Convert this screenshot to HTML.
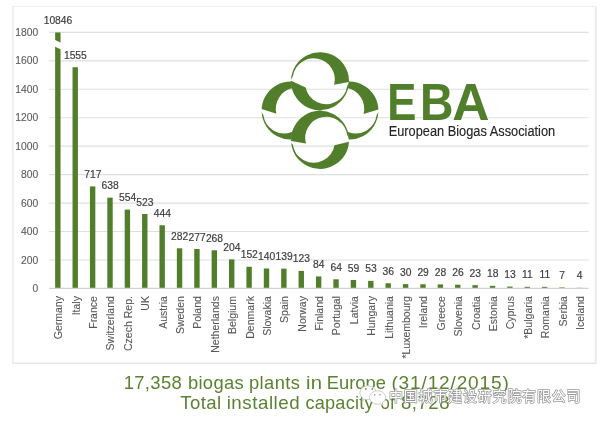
<!DOCTYPE html>
<html lang="en"><head><meta charset="utf-8"><title>Biogas plants in Europe</title>
<style>html,body{margin:0;padding:0;background:#fff}body{width:600px;height:422px;overflow:hidden}svg{display:block;will-change:transform}text{font-family:"Liberation Sans","Noto Sans CJK SC",sans-serif}.ax{font-size:10.3px;fill:#5c5c5c;stroke:#5c5c5c;stroke-width:.12px}.vl{font-size:10.3px;fill:#3d3d3d;stroke:#3d3d3d;stroke-width:.18px}.cat{font-size:10.5px;fill:#595959;stroke:#595959;stroke-width:.1px}.cap{font-size:17.8px;fill:#5b8230}</style></head><body>
<svg width="600" height="422" viewBox="0 0 600 422">
<rect width="600" height="422" fill="#fff"/>
<g id="frame" fill="none">
<path d="M12.8 6.5H595.8" stroke="#efefef" stroke-width="1"/>
<path d="M12.9 6.5V363.2" stroke="#e6e6e6" stroke-width="1.2"/>
<path d="M595.8 6.5V363.2" stroke="#e9e9e9" stroke-width="1.8"/>
<path d="M12.3 363.2H596.7" stroke="#e6e6e6" stroke-width="1.6"/>
</g>
<g id="grid" stroke="#dfdfdf" stroke-width="1.15">
<path d="M49.2 259.96H588.6"/>
<path d="M49.2 231.51H588.6"/>
<path d="M49.2 203.07H588.6"/>
<path d="M49.2 174.62H588.6"/>
<path d="M49.2 146.18H588.6"/>
<path d="M49.2 117.73H588.6"/>
<path d="M49.2 89.29H588.6"/>
<path d="M49.2 60.84H588.6"/>
<path d="M49.2 32.40H588.6"/>
</g>
<g id="yaxis" class="ax" text-anchor="end">
<text x="38.2" y="292.00">0</text>
<text x="38.2" y="263.56">200</text>
<text x="38.2" y="235.11">400</text>
<text x="38.2" y="206.67">600</text>
<text x="38.2" y="178.22">800</text>
<text x="38.2" y="149.78">1000</text>
<text x="38.2" y="121.33">1200</text>
<text x="38.2" y="92.89">1400</text>
<text x="38.2" y="64.44">1600</text>
<text x="38.2" y="36.00">1800</text>
</g>
<g id="bars" fill="#517e2a">
<path d="M55.14 32.4H60.54V42.4L55.14 40Z"/>
<path d="M55.14 46.8L60.54 49.2V288.4H55.14Z"/>
<rect x="72.53" y="67.24" width="5.4" height="221.16"/>
<rect x="89.92" y="186.43" width="5.4" height="101.97"/>
<rect x="107.30" y="197.66" width="5.4" height="90.74"/>
<rect x="124.69" y="209.61" width="5.4" height="78.79"/>
<rect x="142.08" y="214.02" width="5.4" height="74.38"/>
<rect x="159.47" y="225.25" width="5.4" height="63.15"/>
<rect x="176.85" y="248.29" width="5.4" height="40.11"/>
<rect x="194.24" y="249.00" width="5.4" height="39.40"/>
<rect x="211.63" y="250.28" width="5.4" height="38.12"/>
<rect x="229.01" y="259.39" width="5.4" height="29.01"/>
<rect x="246.40" y="266.78" width="5.4" height="21.62"/>
<rect x="263.79" y="268.49" width="5.4" height="19.91"/>
<rect x="281.18" y="268.63" width="5.4" height="19.77"/>
<rect x="298.56" y="270.91" width="5.4" height="17.49"/>
<rect x="315.95" y="276.45" width="5.4" height="11.95"/>
<rect x="333.34" y="279.30" width="5.4" height="9.10"/>
<rect x="350.72" y="280.01" width="5.4" height="8.39"/>
<rect x="368.11" y="280.86" width="5.4" height="7.54"/>
<rect x="385.50" y="283.28" width="5.4" height="5.12"/>
<rect x="402.89" y="284.13" width="5.4" height="4.27"/>
<rect x="420.27" y="284.28" width="5.4" height="4.12"/>
<rect x="437.66" y="284.42" width="5.4" height="3.98"/>
<rect x="455.05" y="284.70" width="5.4" height="3.70"/>
<rect x="472.43" y="285.13" width="5.4" height="3.27"/>
<rect x="489.82" y="285.84" width="5.4" height="2.56"/>
<rect x="507.21" y="286.55" width="5.4" height="1.85"/>
<rect x="524.60" y="286.84" width="5.4" height="1.56"/>
<rect x="541.98" y="286.84" width="5.4" height="1.56"/>
<rect x="559.37" y="287.40" width="5.4" height="1.00"/>
<rect x="576.76" y="287.83" width="5.4" height="0.57"/>
</g>
<path d="M49.2 288.4H588.6" stroke="#d2d2d2" stroke-width="1.1"/>
<g id="vals" class="vl" text-anchor="middle">
<text x="57.99" y="23.95">10846</text>
<text x="75.38" y="58.79">1555</text>
<text x="92.77" y="177.98">717</text>
<text x="110.15" y="189.21">638</text>
<text x="127.54" y="201.16">554</text>
<text x="144.93" y="205.57">523</text>
<text x="162.32" y="216.80">444</text>
<text x="179.70" y="239.84">282</text>
<text x="197.09" y="240.55">277</text>
<text x="214.48" y="241.83">268</text>
<text x="231.86" y="250.94">204</text>
<text x="249.25" y="258.33">152</text>
<text x="266.64" y="260.04">140</text>
<text x="284.03" y="260.18">139</text>
<text x="301.41" y="262.46">123</text>
<text x="318.80" y="268.00">84</text>
<text x="336.19" y="270.85">64</text>
<text x="353.57" y="271.56">59</text>
<text x="370.96" y="272.41">53</text>
<text x="388.35" y="274.83">36</text>
<text x="405.74" y="275.68">30</text>
<text x="423.12" y="275.83">29</text>
<text x="440.51" y="275.97">28</text>
<text x="457.90" y="276.25">26</text>
<text x="475.28" y="276.68">23</text>
<text x="492.67" y="277.39">18</text>
<text x="510.06" y="278.10">13</text>
<text x="527.45" y="278.39">11</text>
<text x="544.83" y="278.39">11</text>
<text x="562.22" y="278.95">7</text>
<text x="579.61" y="279.38">4</text>
</g>
<g id="cats" class="cat" text-anchor="end">
<text transform="translate(62.29 296.1) rotate(-90)">Germany</text>
<text transform="translate(79.68 296.1) rotate(-90)">Italy</text>
<text transform="translate(97.07 296.1) rotate(-90)">France</text>
<text transform="translate(114.45 296.1) rotate(-90)">Switzerland</text>
<text transform="translate(131.84 296.1) rotate(-90)">Czech Rep.</text>
<text transform="translate(149.23 296.1) rotate(-90)">UK</text>
<text transform="translate(166.62 296.1) rotate(-90)">Austria</text>
<text transform="translate(184.00 296.1) rotate(-90)">Sweden</text>
<text transform="translate(201.39 296.1) rotate(-90)">Poland</text>
<text transform="translate(218.78 296.1) rotate(-90)">Netherlands</text>
<text transform="translate(236.16 296.1) rotate(-90)">Belgium</text>
<text transform="translate(253.55 296.1) rotate(-90)">Denmark</text>
<text transform="translate(270.94 296.1) rotate(-90)">Slovakia</text>
<text transform="translate(288.33 296.1) rotate(-90)">Spain</text>
<text transform="translate(305.71 296.1) rotate(-90)">Norway</text>
<text transform="translate(323.10 296.1) rotate(-90)">Finland</text>
<text transform="translate(340.49 296.1) rotate(-90)">Portugal</text>
<text transform="translate(357.87 296.1) rotate(-90)">Latvia</text>
<text transform="translate(375.26 296.1) rotate(-90)">Hungary</text>
<text transform="translate(392.65 296.1) rotate(-90)">Lithuania</text>
<text transform="translate(410.04 296.1) rotate(-90)">*Luxembourg</text>
<text transform="translate(427.42 296.1) rotate(-90)">Ireland</text>
<text transform="translate(444.81 296.1) rotate(-90)">Greece</text>
<text transform="translate(462.20 296.1) rotate(-90)">Slovenia</text>
<text transform="translate(479.58 296.1) rotate(-90)">Croatia</text>
<text transform="translate(496.97 296.1) rotate(-90)">Estonia</text>
<text transform="translate(514.36 296.1) rotate(-90)">Cyprus</text>
<text transform="translate(531.75 296.1) rotate(-90)">*Bulgaria</text>
<text transform="translate(549.13 296.1) rotate(-90)">Romania</text>
<text transform="translate(566.52 296.1) rotate(-90)">Serbia</text>
<text transform="translate(583.91 296.1) rotate(-90)">Iceland</text>
</g>
<g id="logo" fill="#517e2a">
<defs><clipPath id="sideclip" clip-rule="evenodd"><path clip-rule="evenodd" d="M250 40H400V190H250ZM291.30 81.2a28.7 28.7 0 1 0 57.4 0a28.7 28.7 0 1 0 -57.4 0ZM291.30 139.8a28.7 28.7 0 1 0 57.4 0a28.7 28.7 0 1 0 -57.4 0Z"/></clipPath></defs>
<g clip-path="url(#sideclip)">
<path d="M320.44 109.08A29.00 29.00 0 0 1 335.49 85.15A29.00 29.00 0 0 1 363.75 85.40A29.00 29.00 0 0 1 378.38 109.59L363.53 114.10A21.10 21.10 0 0 0 360.98 97.59A21.10 21.10 0 0 0 347.23 88.10A21.10 21.10 0 0 0 330.89 91.59A21.10 21.10 0 0 0 322.21 105.86Z"/>
<path d="M378.36 112.12A29.00 29.00 0 0 1 362.87 136.28A29.00 29.00 0 0 1 334.18 135.28A29.00 29.00 0 0 1 320.40 110.09L335.87 119.62A21.10 21.10 0 0 0 348.71 132.32A21.10 21.10 0 0 0 366.67 130.43A21.10 21.10 0 0 0 376.59 115.34Z"/>
<path d="M319.56 109.08A29.00 29.00 0 0 0 304.66 85.24A29.00 29.00 0 0 0 276.54 85.24A29.00 29.00 0 0 0 261.64 109.08L276.41 113.83A21.10 21.10 0 0 1 279.13 97.41A21.10 21.10 0 0 1 292.91 88.08A21.10 21.10 0 0 1 309.16 91.63A21.10 21.10 0 0 1 317.79 105.86Z"/>
<path d="M261.64 112.12A29.00 29.00 0 0 0 277.13 136.28A29.00 29.00 0 0 0 305.82 135.28A29.00 29.00 0 0 0 319.60 110.09L304.13 119.62A21.10 21.10 0 0 1 291.29 132.32A21.10 21.10 0 0 1 273.33 130.43A21.10 21.10 0 0 1 263.41 115.34Z"/>
</g>
<path d="M291.04 79.68A29.00 29.00 0 0 1 306.61 55.48A29.00 29.00 0 0 1 335.37 56.61A29.00 29.00 0 0 1 348.99 81.96L334.13 84.68A21.10 21.10 0 0 0 331.57 68.17A21.10 21.10 0 0 0 317.82 58.70A21.10 21.10 0 0 0 301.49 62.19A21.10 21.10 0 0 0 292.81 76.46Z"/>
<path d="M348.96 82.72A29.00 29.00 0 0 1 333.47 106.88A29.00 29.00 0 0 1 304.78 105.88A29.00 29.00 0 0 1 291.00 80.69L305.66 87.41A21.10 21.10 0 0 0 317.50 102.19A21.10 21.10 0 0 0 336.42 101.52A21.10 21.10 0 0 0 347.19 85.94Z"/>
<path d="M291.19 143.08A29.00 29.00 0 0 0 306.83 165.64A29.00 29.00 0 0 0 334.28 165.04A29.00 29.00 0 0 0 348.93 141.82L334.47 145.34A21.10 21.10 0 0 1 322.91 160.59A21.10 21.10 0 0 1 303.78 160.22A21.10 21.10 0 0 1 292.81 144.54Z"/>
<path d="M348.96 138.28A29.00 29.00 0 0 0 333.24 114.00A29.00 29.00 0 0 0 304.35 115.39A29.00 29.00 0 0 0 291.03 141.06L305.96 143.61A21.10 21.10 0 0 1 308.29 126.99A21.10 21.10 0 0 1 322.01 117.33A21.10 21.10 0 0 1 338.44 120.74A21.10 21.10 0 0 1 347.19 135.06Z"/>
</g>
<g id="logotext">
<g style="font-size:51.5px;font-weight:bold;fill:#517e2a">
<text transform="translate(387.2 119.9) scale(0.848 1)">E</text>
<text transform="translate(419.9 119.9) scale(0.9 1)">B</text>
<text transform="translate(452.3 119.9)">A</text>
</g>
<text transform="translate(388.7 136.2) scale(0.865 1)" style="font-size:14.8px;fill:#262626;stroke:#262626;stroke-width:.15px">European Biogas Association</text>
</g>

<g id="caption" class="cap">
<text transform="translate(123.7 388.8) scale(1.0381 1)" style="letter-spacing:0.3px">17,358</text>
<text transform="translate(187.91 388.8) scale(1.0346 1)" style="letter-spacing:0.3px">biogas</text>
<text transform="translate(249.01 388.8) scale(1.0295 1)" style="letter-spacing:0.4px">plants</text>
<text transform="translate(305.97 388.8) scale(1.1404 1)" style="letter-spacing:0.3px">in</text>
<text transform="translate(326.75 388.8) scale(1.0309 1)" style="letter-spacing:0px">Europe</text>
<text transform="translate(391.43 388.8) scale(1.0698 1)" style="letter-spacing:0.8px">(31/12/2015)</text>
<text transform="translate(180.28 409.4) scale(1.0453 1)" style="letter-spacing:0.4px">Total</text>
<text transform="translate(226.68 409.4) scale(1.0532 1)" style="letter-spacing:0.5px">installed</text>
<text transform="translate(305.54 409.4) scale(1.019 1)" style="letter-spacing:0.2px">capacity</text>
<text transform="translate(380.59 409.4) scale(0.9429 1)" style="letter-spacing:0px">of</text>
<text transform="translate(400.92 409.4) scale(1.0444 1)" style="letter-spacing:0.5px">8,728</text>
</g>
<g id="watermark">
<g fill="#fff" stroke="#c4c4c4" stroke-width="0.9">
<path d="M368 385.8c-4.5 0-8.1 3.1-8.1 7 0 2.2 1.200 4.200 3 5.400l-0.900 2.500 3-1.500c0.900 0.300 1.900 0.500 3 0.500 4.500 0 8.100-3.100 8.100-6.900 0-3.900-3.600-7-8.100-7z"/>
<path d="M377.600 390.800c-4.400 0-8 3-8 6.700 0 3.700 3.600 6.700 8 6.700 0.900 0 1.800-0.100 2.600-0.400l2.700 1.500-0.700-2.400c2-1.200 3.400-3.200 3.400-5.400 0-3.700-3.600-6.700-8-6.700z"/>
</g>
<g fill="#8a8a8a"><circle cx="365.800" cy="389" r="0.900"/><circle cx="372.200" cy="389" r="0.900"/><circle cx="374.500" cy="394.700" r="0.800"/><circle cx="379.900" cy="394.700" r="0.800"/></g>
<g style="font-size:13.9px" font-family="'Liberation Sans','Noto Sans CJK SC',sans-serif">
<text x="389" y="401.400" fill="#fff" stroke="#999" stroke-width="1.500" stroke-linejoin="round" paint-order="stroke" textLength="191.500" lengthAdjust="spacing">中国城市建设研究院有限公司</text>
</g>
</g>

</svg></body></html>
